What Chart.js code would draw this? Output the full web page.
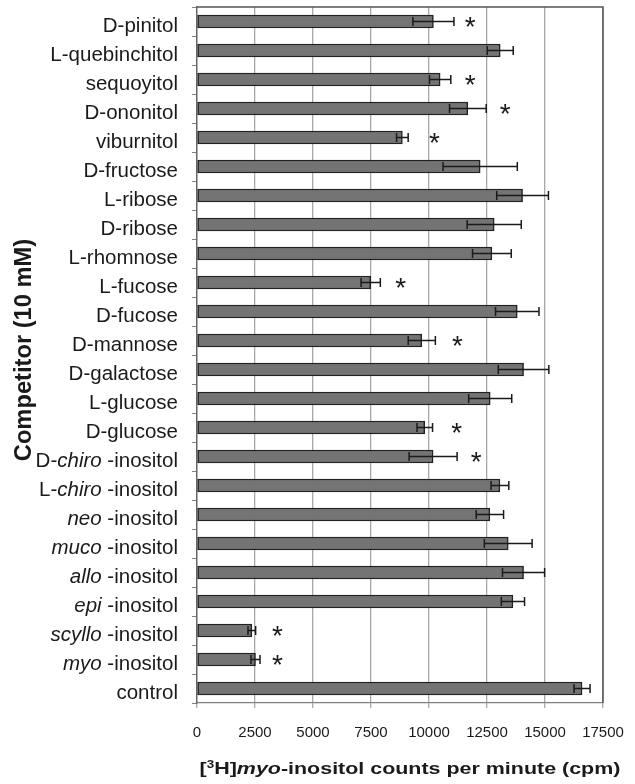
<!DOCTYPE html>
<html><head><meta charset="utf-8">
<script src="https://cdn.jsdelivr.net/npm/chart.js@4.4.1/dist/chart.umd.min.js"></script>
<style>html,body{margin:0;padding:0;background:#fff;}#wrap{width:635px;height:784px;position:relative;}</style>
</head><body><div id="wrap"><canvas id="c" width="635" height="784"></canvas></div>
<script>
// ---- data (top to bottom) ----
const categories = [
  'D-pinitol','L-quebinchitol','sequoyitol','D-ononitol','viburnitol','D-fructose',
  'L-ribose','D-ribose','L-rhomnose','L-fucose','D-fucose','D-mannose','D-galactose',
  'L-glucose','D-glucose','D-<i>chiro</i> -inositol','L-<i>chiro</i> -inositol',
  '<i>neo</i> -inositol','<i>muco</i> -inositol','<i>allo</i> -inositol','<i>epi</i> -inositol',
  '<i>scyllo</i> -inositol','<i>myo</i> -inositol','control'
];
const meanCpm = [10190,13070,10480,11675,8852,12206,14033,12811,12711,7487,13804,9689,14076,
  12638,9818,10177,13057,12624,13415,14076,13618,2362,2521,16597];
const errCpm = [885,560,460,790,250,1600,1115,1166,835,415,937,585,1090,
  928,335,1035,383,590,1030,908,500,165,195,345];
// significance marks (value on x axis where the asterisk sits; null = none)
const sigMark = [11775,null,11775,13286,10233,null,null,null,null,8782,null,11226,null,
  null,11200,12034,null,null,null,null,null,3471,3471,null];
const xTicks = [0,2500,5000,7500,10000,12500,15000,17500];
const yTitle = 'Competitor (10 mM)';
const xTitleParts = [
  {t:'[',s:'n'},{t:'3',s:'sup'},{t:'H]',s:'n'},{t:'myo',s:'i'},{t:'-inositol counts per minute (cpm)',s:'n'}
];

const FONT = "'Liberation Sans', Arial, Helvetica, sans-serif";
function parseRich(s){
  const parts=[];const re=/<i>(.*?)<\/i>/g;let last=0,m;
  while((m=re.exec(s))){ if(m.index>last) parts.push({t:s.slice(last,m.index),i:false}); parts.push({t:m[1],i:true}); last=re.lastIndex; }
  if(last<s.length) parts.push({t:s.slice(last),i:false});
  return parts;
}
const plain = categories.map(s=>s.replace(/<\/?i>/g,''));

const decor = {
  id:'decor',
  afterDatasetsDraw(chart){
    const {ctx, scales:{x,y}} = chart;
    ctx.save();
    // error bars
    ctx.strokeStyle='#1a1a1a'; ctx.lineWidth=1.5;
    meanCpm.forEach((m,i)=>{
      const cy=y.getPixelForValue(i);
      const x1=x.getPixelForValue(m-errCpm[i]), x2=x.getPixelForValue(m+errCpm[i]);
      ctx.beginPath();
      ctx.moveTo(x1,cy);ctx.lineTo(x2,cy);
      ctx.moveTo(x1,cy-4.5);ctx.lineTo(x1,cy+4.5);
      ctx.moveTo(x2,cy-4.5);ctx.lineTo(x2,cy+4.5);
      ctx.stroke();
    });
    // asterisks
    ctx.fillStyle='#1a1a1a'; ctx.font='28px '+FONT; ctx.textBaseline='alphabetic'; ctx.textAlign='left';
    const mt=ctx.measureText('*');
    sigMark.forEach((v,i)=>{
      if(v==null) return;
      const cy=y.getPixelForValue(i), cx=x.getPixelForValue(v);
      const bx = cx - (mt.actualBoundingBoxRight - mt.actualBoundingBoxLeft)/2 + mt.actualBoundingBoxLeft;
      const by = cy + (mt.actualBoundingBoxAscent - mt.actualBoundingBoxDescent)/2;
      ctx.fillText('*', bx, by);
    });
    ctx.restore();
  },
  afterDraw(chart){
    const {ctx, chartArea:a, scales:{x,y}} = chart;
    ctx.save();
    // top and right box
    ctx.strokeStyle='#555'; ctx.lineWidth=1.5;
    ctx.beginPath(); ctx.moveTo(a.left,a.top); ctx.lineTo(a.right,a.top); ctx.lineTo(a.right,a.bottom); ctx.stroke();
    // y category labels
    ctx.fillStyle='#1a1a1a'; ctx.textBaseline='alphabetic'; ctx.textAlign='left';
    const sx=1.0, size=20.5;
    categories.forEach((lab,i)=>{
      const parts=parseRich(lab);
      let w=0;
      parts.forEach(p=>{ctx.font=(p.i?'italic ':'')+size+'px '+FONT; p.w=ctx.measureText(p.t).width; w+=p.w;});
      const cy=y.getPixelForValue(i);
      ctx.save(); ctx.translate(a.left-19, cy+10); ctx.scale(sx,1);
      let px=-w;
      parts.forEach(p=>{ctx.font=(p.i?'italic ':'')+size+'px '+FONT; ctx.fillText(p.t,px,0); px+=p.w;});
      ctx.restore();
    });
    // x tick labels
    ctx.font='15px '+FONT; ctx.textAlign='center';
    xTicks.forEach(v=>{ ctx.fillText(String(v), x.getPixelForValue(v), a.bottom+34); });
    // x title
    const ts=16, tsx=1.34;
    let tw=0;
    const fontFor=p=> p.s==='sup' ? 'bold 10px '+FONT : (p.s==='i' ? 'italic bold ' : 'bold ')+ts+'px '+FONT;
    ctx.textAlign='left';
    xTitleParts.forEach(p=>{ctx.font=fontFor(p); p.w=ctx.measureText(p.t).width; tw+=p.w;});
    ctx.save(); ctx.translate(410, a.bottom+71); ctx.scale(tsx,1);
    let px=-tw/2;
    xTitleParts.forEach(p=>{ctx.font=fontFor(p); ctx.fillText(p.t,px,p.s==='sup'?-6:0); px+=p.w;});
    ctx.restore();
    // y title
    ctx.save(); ctx.translate(31,350); ctx.rotate(-Math.PI/2); ctx.scale(1.03,1);
    ctx.font='bold 23px '+FONT; ctx.textAlign='center'; ctx.fillText(yTitle,0,0);
    ctx.restore();
    ctx.restore();
  }
};

new Chart(document.getElementById('c'), {
  type:'bar',
  data:{ labels: plain, datasets:[{ data: meanCpm, backgroundColor:'#747474', borderColor:'#222',
    borderWidth:1.5, borderSkipped:false, barThickness:13 }]},
  options:{
    indexAxis:'y', responsive:false, animation:false, devicePixelRatio:1,
    layout:{padding:{left:192, top:7, right:32, bottom:76}},
    plugins:{legend:{display:false}, tooltip:{enabled:false}},
    scales:{
      x:{ min:0, max:17500, afterBuildTicks(s){ s.ticks = xTicks.map(v=>({value:v})); },
          ticks:{display:false}, grid:{color:'#a8a8a8', lineWidth:1.3, tickLength:5}, border:{color:'#808080', width:1.3} },
      y:{ ticks:{display:false}, grid:{drawOnChartArea:false, tickLength:5, color:'#808080'}, border:{color:'#666', width:1.4} }
    }
  },
  plugins:[decor]
});
</script></body></html>
